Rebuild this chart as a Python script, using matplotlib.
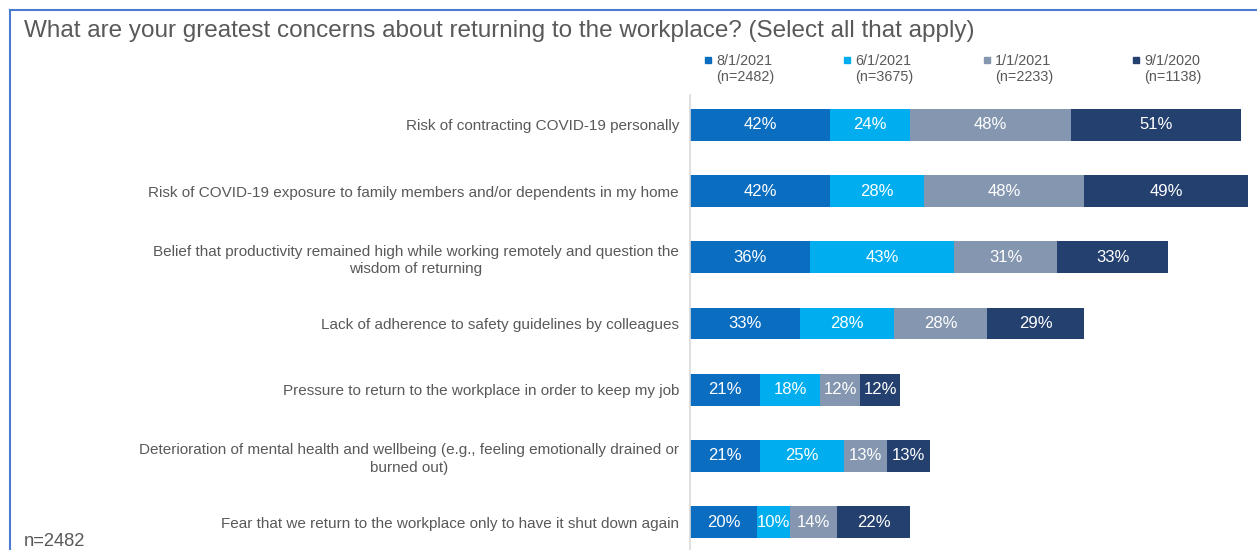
import matplotlib
matplotlib.use("Agg")
import matplotlib.pyplot as plt
from matplotlib.lines import Line2D
from matplotlib.patches import Rectangle

plt.rcParams['font.family'] = ['Liberation Sans', 'DejaVu Sans']

title = "What are your greatest concerns about returning to the workplace? (Select all that apply)"
categories = [
    "Risk of contracting COVID-19 personally",
    "Risk of COVID-19 exposure to family members and/or dependents in my home",
    "Belief that productivity remained high while working remotely and question the\nwisdom of returning",
    "Lack of adherence to safety guidelines by colleagues",
    "Pressure to return to the workplace in order to keep my job",
    "Deterioration of mental health and wellbeing (e.g., feeling emotionally drained or\nburned out)",
    "Fear that we return to the workplace only to have it shut down again",
]
series_names = ["8/1/2021", "6/1/2021", "1/1/2021", "9/1/2020"]
series_n = ["(n=2482)", "(n=3675)", "(n=2233)", "(n=1138)"]
s_aug2021 = [42, 42, 36, 33, 21, 21, 20]
s_jun2021 = [24, 28, 43, 28, 18, 25, 10]
s_jan2021 = [48, 48, 31, 28, 12, 13, 14]
s_sep2020 = [51, 49, 33, 29, 12, 13, 22]
footnote = "n=2482"

series = [s_aug2021, s_jun2021, s_jan2021, s_sep2020]
colors = ["#0A6DC0", "#00AEEF", "#8496B0", "#24406F"]
text_grey = "#595959"

W, H = 1257, 550
fig = plt.figure(figsize=(W / 100, H / 100), dpi=100)

ax = fig.add_axes([690 / W, 0, (W - 690) / W, 1 - 95 / H])
ypos = list(range(len(categories)))
left = [0] * len(categories)
for vals, col in zip(series, colors):
    ax.barh(ypos, vals, left=left, height=0.48, color=col, edgecolor='none')
    for y, v, l in zip(ypos, vals, left):
        ax.text(l + v / 2, y, f"{v}%", ha='center', va='center', color='white', fontsize=12)
    left = [a + b for a, b in zip(left, vals)]

ax.set_xlim(0, (W - 690) / 3.34)
ax.set_ylim(6 + 28 / 66.17, -30 / 66.17)
ax.set_yticks(ypos)
ax.set_yticklabels(categories, fontsize=11, color=text_grey, multialignment='center',
                   linespacing=1.3)
ax.tick_params(axis='y', length=0, pad=8)
ax.set_xticks([])
for s in ['top', 'right', 'bottom']:
    ax.spines[s].set_visible(False)
ax.spines['left'].set_color('#D9D9D9')
ax.spines['left'].set_linewidth(1.2)

# title
fig.text(24 / W, 1 - 31 / H, title, fontsize=17.5, color=text_grey, ha='left', va='center')

# legend
leg_x = [705, 844, 984, 1133]
for x, name, n, col in zip(leg_x, series_names, series_n, colors):
    fig.patches.append(Rectangle((x / W, 1 - 63 / H), 6 / W, 6 / H,
                                 transform=fig.transFigure, color=col))
    fig.text((x + 11) / W, 1 - 69 / H, f"{name}\n{n}", fontsize=10.4, color=text_grey,
             ha='left', va='center', multialignment='left', linespacing=1.2)

# footnote
fig.text(24 / W, 1 - 542 / H, footnote, fontsize=13.2, color=text_grey, ha='left', va='center')

# border
border = "#4A7BD0"
fig.lines.append(Line2D([10 / W, 1], [1 - 10 / H, 1 - 10 / H], transform=fig.transFigure,
                        color=border, linewidth=1.5))
fig.lines.append(Line2D([10 / W, 10 / W], [0, 1 - 10 / H], transform=fig.transFigure,
                        color=border, linewidth=1.5))

fig.savefig("out.png", dpi=100)
